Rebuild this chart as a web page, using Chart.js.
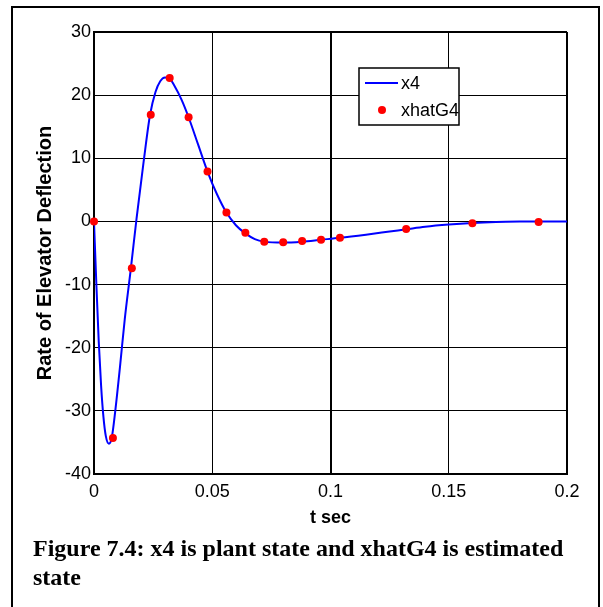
<!DOCTYPE html>
<html>
<head>
<meta charset="utf-8">
<script src="https://cdn.jsdelivr.net/npm/chart.js@4/dist/chart.umd.min.js"></script>
<style>
  html, body { margin: 0; padding: 0; background: #fff; }
  #wrap { position: relative; width: 603px; height: 607px; overflow: hidden; }
  #frame { position: absolute; left: 11px; top: 6px; width: 585px; height: 640px; border: 2px solid #000; box-sizing: content-box; }
  #caption { position: absolute; left: 33px; top: 534px; width: 560px; font-family: "Liberation Serif", "Times New Roman", serif; font-weight: bold; font-size: 24px; line-height: 29px; color: #000; white-space: nowrap; }
  canvas { position: absolute; left: 0; top: 0; }
</style>
</head>
<body>
<div id="wrap">
  <canvas id="grafico" width="603" height="607"></canvas>
  <div id="frame"></div>
  <div id="caption">Figure 7.4: x4 is plant state and xhatG4 is estimated<br>state</div>
</div>
<script>
// curva x4 (estado de la planta)
const tCurve = [0, 0.001, 0.002, 0.003, 0.004, 0.005, 0.0063, 0.0075, 0.009, 0.011, 0.013, 0.0156, 0.018, 0.021, 0.0237, 0.026, 0.028, 0.030, 0.032, 0.034, 0.037, 0.040, 0.044, 0.048, 0.052, 0.056, 0.060, 0.064, 0.068, 0.072, 0.080, 0.088, 0.096, 0.104, 0.115, 0.125, 0.132, 0.140, 0.150, 0.160, 0.170, 0.180, 0.190, 0.200];
const x4Values = [0, -10, -19, -26, -31, -34, -35.2, -34.3, -30, -23, -15.5, -7.4, 0.5, 9.5, 16.9, 20.5, 22.2, 22.8, 22.6, 21.5, 19.3, 16.5, 12.2, 7.9, 4.3, 1.4, -0.6, -1.9, -2.8, -3.2, -3.35, -3.2, -2.9, -2.6, -2.1, -1.6, -1.25, -0.85, -0.5, -0.25, -0.1, -0.03, 0, 0];

// puntos estimados xhatG4
const tDots = [0, 0.008, 0.016, 0.024, 0.032, 0.040, 0.048, 0.056, 0.064, 0.072, 0.080, 0.088, 0.096, 0.104, 0.132, 0.160, 0.188];
const xhatG4Values = [0, -34.3, -7.4, 16.9, 22.7, 16.5, 7.9, 1.4, -1.8, -3.2, -3.3, -3.1, -2.9, -2.6, -1.2, -0.3, -0.1];

const xTickLabels = ['0', '0.05', '0.1', '0.15', '0.2'];
const yTickLabels = ['-40', '-30', '-20', '-10', '0', '10', '20', '30'];

const fuente = '"Liberation Sans", Arial, sans-serif';

// leyenda dibujada dentro del area del grafico
const leyendaCaja = {
    id: 'leyendaCaja',
    afterDraw(chart) {
        const c = chart.ctx;
        const x = 359, y = 68, w = 100, h = 57;
        c.save();
        c.fillStyle = '#fff';
        c.fillRect(x, y, w, h);
        c.strokeStyle = '#000';
        c.lineWidth = 1.5;
        c.strokeRect(x, y, w, h);
        c.strokeStyle = '#0000ff';
        c.lineWidth = 2;
        c.beginPath();
        c.moveTo(365, 83);
        c.lineTo(398, 83);
        c.stroke();
        c.fillStyle = '#ff0000';
        c.beginPath();
        c.arc(382, 110, 4, 0, Math.PI * 2);
        c.fill();
        c.fillStyle = '#000';
        c.font = '18px ' + fuente;
        c.textBaseline = 'middle';
        c.fillText(chart.data.datasets[1].label, 401, 84);
        c.fillText(chart.data.datasets[0].label, 401, 111);
        c.restore();
    }
};

const ctx = document.getElementById('grafico');
new Chart(ctx, {
    type: 'scatter',
    data: {
        datasets: [{
            label: 'xhatG4',
            data: tDots.map((t, i) => ({ x: t, y: xhatG4Values[i] })),
            showLine: false,
            pointRadius: 4,
            pointBackgroundColor: '#ff0000',
            pointBorderWidth: 0,
            clip: false
        }, {
            label: 'x4',
            data: tCurve.map((t, i) => ({ x: t, y: x4Values[i] })),
            showLine: true,
            borderColor: '#0000ff',
            borderWidth: 2,
            pointRadius: 0,
            cubicInterpolationMode: 'monotone'
        }]
    },
    options: {
        responsive: false,
        animation: false,
        layout: { padding: { left: 0, top: 32, right: 36, bottom: 78 } },
        plugins: {
            legend: { display: false },
            tooltip: { enabled: false }
        },
        scales: {
            x: {
                type: 'linear',
                min: 0,
                max: 0.2,
                afterFit: s => { s.height = 55; },
                afterBuildTicks: s => { s.ticks = xTickLabels.map(v => ({ value: parseFloat(v) })); },
                ticks: {
                    color: '#000',
                    padding: 7,
                    font: { family: fuente, size: 18 },
                    callback: (v, i) => xTickLabels[i]
                },
                grid: {
                    color: '#000',
                    drawTicks: false,
                    lineWidth: c => (c.tick && (Math.abs(c.tick.value - 0.1) < 1e-9 || Math.abs(c.tick.value - 0.2) < 1e-9)) ? 2 : 1
                },
                border: { color: '#000', width: 2 },
                title: {
                    display: true,
                    text: 't sec',
                    color: '#000',
                    padding: 0,
                    font: { family: fuente, size: 18, weight: 'bold' }
                }
            },
            y: {
                min: -40,
                max: 30,
                afterFit: s => { s.width = 94; },
                afterBuildTicks: s => { s.ticks = yTickLabels.map(v => ({ value: parseFloat(v) })); },
                ticks: {
                    color: '#000',
                    padding: 3,
                    font: { family: fuente, size: 18 },
                    callback: (v, i) => yTickLabels[i]
                },
                grid: {
                    color: '#000',
                    drawTicks: false,
                    lineWidth: c => (c.tick && c.tick.value === 30) ? 2 : 1
                },
                border: { color: '#000', width: 2 },
                title: {
                    display: true,
                    text: 'Rate of Elevator Deflection',
                    color: '#000',
                    padding: { top: 33, bottom: 0 },
                    font: { family: fuente, size: 20, weight: 'bold' }
                }
            }
        }
    },
    plugins: [leyendaCaja]
});
</script>
</body>
</html>
